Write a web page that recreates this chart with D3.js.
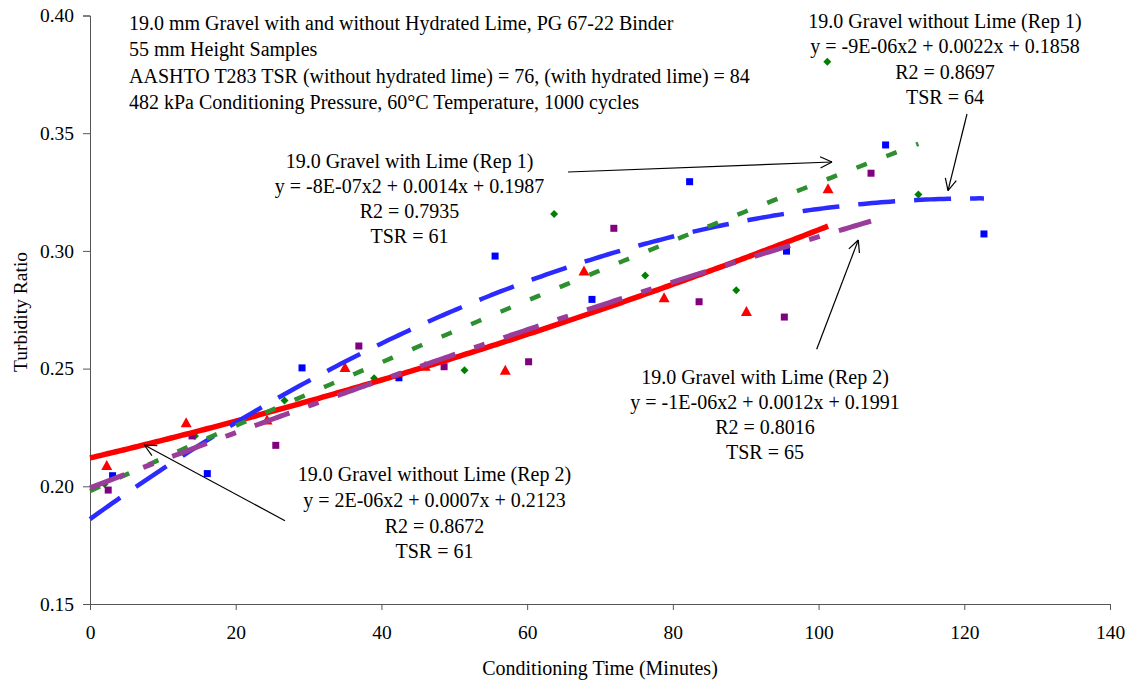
<!DOCTYPE html>
<html><head><meta charset="utf-8">
<script src="https://cdn.jsdelivr.net/npm/d3@7"></script>
<style>
body{margin:0;background:#fff}
svg{display:block}
text{font-family:"Liberation Serif","Times New Roman",serif;fill:#000}
</style>
</head><body>
<svg id="c" width="1129" height="684"></svg>
<script>
// ---------- data ----------
const xTicks = [0, 20, 40, 60, 80, 100, 120, 140];
const yTicks = [0.15, 0.20, 0.25, 0.30, 0.35, 0.40];

// 19.0 Gravel without Lime (Rep 1) - blue squares
const noLime1Time = [3.1, 16.1, 29.1, 42.4, 55.6, 68.9, 82.3, 95.6, 109.2, 122.7];
const noLime1TR   = [0.2045, 0.2054, 0.2503, 0.2461, 0.2978, 0.2794, 0.3294, 0.2999, 0.3450, 0.3072];
// 19.0 Gravel with Lime (Rep 1) - green diamonds
const lime1Time = [2.0, 14.4, 26.7, 39.0, 51.4, 63.7, 76.2, 88.7, 101.2, 113.7];
const lime1TR   = [0.2010, 0.2214, 0.2364, 0.2459, 0.2493, 0.3157, 0.2895, 0.2833, 0.3804, 0.3240];
// 19.0 Gravel without Lime (Rep 2) - red triangles
const noLime2Time = [2.3, 13.2, 24.3, 35.0, 46.0, 57.0, 67.8, 78.8, 90.1, 101.3];
const noLime2TR   = [0.2086, 0.2268, 0.2279, 0.2503, 0.2508, 0.2491, 0.2912, 0.2799, 0.2740, 0.3262];
// 19.0 Gravel with Lime (Rep 2) - purple squares
const lime2Time = [2.5, 14.0, 25.5, 36.9, 48.6, 60.2, 71.9, 83.6, 95.3, 107.2];
const lime2TR   = [0.1984, 0.2214, 0.2174, 0.2596, 0.2508, 0.2529, 0.3096, 0.2784, 0.2719, 0.3330];

const headerLines = [
  "19.0 mm Gravel with and without Hydrated Lime, PG 67-22 Binder",
  "55 mm Height Samples",
  "AASHTO T283 TSR (without hydrated lime) = 76, (with hydrated lime) = 84",
  "482 kPa Conditioning Pressure, 60\u00B0C Temperature, 1000 cycles"
];
const noteNoLime1 = ["19.0 Gravel without Lime (Rep 1)", "y = -9E-06x2 + 0.0022x + 0.1858", "R2 = 0.8697", "TSR = 64"];
const noteLime1   = ["19.0 Gravel with Lime (Rep 1)", "y = -8E-07x2 + 0.0014x + 0.1987", "R2 = 0.7935", "TSR = 61"];
const noteLime2   = ["19.0 Gravel with Lime (Rep 2)", "y = -1E-06x2 + 0.0012x + 0.1991", "R2 = 0.8016", "TSR = 65"];
const noteNoLime2 = ["19.0 Gravel without Lime (Rep 2)", "y = 2E-06x2 + 0.0007x + 0.2123", "R2 = 0.8672", "TSR = 61"];

// ---------- chart ----------
const svg = d3.select("#c");
const x = d3.scaleLinear().domain([0, 140]).range([90, 1110]);
const y = d3.scaleLinear().domain([0.15, 0.40]).range([604, 15.5]);

function quadFit(xs, ys) {
  let S = [0,0,0,0,0], T = [0,0,0];
  xs.forEach((xv, i) => {
    let p = 1;
    for (let k = 0; k < 5; k++) { S[k] += p; if (k < 3) T[k] += p * ys[i]; p *= xv; }
  });
  const A = [[S[0],S[1],S[2],T[0]],[S[1],S[2],S[3],T[1]],[S[2],S[3],S[4],T[2]]];
  for (let c = 0; c < 3; c++) {
    for (let r = c + 1; r < 3; r++) {
      const f = A[r][c] / A[c][c];
      for (let k = c; k < 4; k++) A[r][k] -= f * A[c][k];
    }
  }
  const s = [0,0,0];
  for (let r = 2; r >= 0; r--) {
    let v = A[r][3];
    for (let k = r + 1; k < 3; k++) v -= A[r][k] * s[k];
    s[r] = v / A[r][r];
  }
  return t => s[0] + s[1] * t + s[2] * t * t;
}

// axes
const gy = svg.append("g").attr("transform", "translate(90,0)")
  .call(d3.axisLeft(y).tickValues(yTicks).tickFormat(d3.format(".2f")).tickSize(7).tickPadding(9));
const gx = svg.append("g").attr("transform", "translate(0,604)")
  .call(d3.axisBottom(x).tickValues(xTicks).tickFormat(d3.format("d")).tickSize(6).tickPadding(15));
[gx, gy].forEach(g => {
  g.selectAll("path.domain, line").attr("stroke", "#555").attr("stroke-width", 1);
  g.selectAll("text").style("font-size", "19.5px").style("font-family", "Liberation Serif");
});

svg.append("text").attr("x", 600).attr("y", 675).attr("text-anchor", "middle")
  .style("font-size", "20px").text("Conditioning Time (Minutes)");
svg.append("text").attr("transform", "translate(27,312) rotate(-90)").attr("text-anchor", "middle")
  .style("font-size", "19.5px").text("Turbidity Ratio");

const series = [
  {t: noLime1Time, v: noLime1TR, color: "#0000ff", line: "#2b2bff", dash: "37,19", w: 4.5, shape: "square"},
  {t: lime1Time,   v: lime1TR,   color: "#008000", line: "#2e8f2e", dash: "11,21", w: 4.5, shape: "diamond"},
  {t: noLime2Time, v: noLime2TR, color: "#ff0000", line: "#ff0000", dash: null,    w: 5.5, shape: "triangle"},
  {t: lime2Time,   v: lime2TR,   color: "#800080", line: "#9a3c9a", dash: "37,20,11,20", w: 5, shape: "square"}
];

// markers
series.forEach(s => {
  const g = svg.append("g");
  s.t.forEach((tv, i) => {
    const cx = x(tv), cy = y(s.v[i]);
    if (s.shape === "square") {
      g.append("rect").attr("x", cx - 3.5).attr("y", cy - 3.5).attr("width", 7).attr("height", 7).attr("fill", s.color);
    } else if (s.shape === "diamond") {
      g.append("path").attr("d", `M${cx},${cy-4}L${cx+4},${cy}L${cx},${cy+4}L${cx-4},${cy}Z`).attr("fill", s.color);
    } else {
      g.append("path").attr("d", `M${cx},${cy-6}L${cx+5.5},${cy+4}L${cx-5.5},${cy+4}Z`).attr("fill", s.color);
    }
  });
});

// trendlines (quadratic least squares, 0 .. last time)
const order = [2, 0, 1, 3];
order.forEach(k => {
  const s = series[k];
  const f = quadFit(s.t, s.v);
  const tmax = d3.max(s.t);
  const pts = d3.range(0, 201).map(i => [tmax * i / 200, f(tmax * i / 200)]);
  const p = svg.append("path")
    .attr("d", d3.line().x(d => x(d[0])).y(d => y(d[1]))(pts))
    .attr("fill", "none").attr("stroke", s.line).attr("stroke-width", s.w);
  if (s.dash) p.attr("stroke-dasharray", s.dash);
});

// text blocks
function block(lines, cx, cy0, dy, anchor) {
  const t = svg.append("text").attr("text-anchor", anchor).style("font-size", "20px");
  lines.forEach((l, i) => t.append("tspan").attr("x", cx).attr("y", cy0 + i * dy + 7).text(l));
}
block(headerLines, 129, 22.5, 26.5, "start");
block(noteNoLime1, 945, 20.7, 25.5, "middle");
block(noteLime1, 409.5, 160.7, 25.2, "middle");
block(noteLime2, 765, 377, 25, "middle");
block(noteNoLime2, 434.5, 474.3, 25.7, "middle");

// arrows
function arrow(x1, y1, x2, y2) {
  const g = svg.append("g").attr("stroke", "#000").attr("stroke-width", 1.2).attr("fill", "none");
  g.append("line").attr("x1", x1).attr("y1", y1).attr("x2", x2).attr("y2", y2);
  const a = Math.atan2(y2 - y1, x2 - x1), L = 13, h = 0.45;
  [a + Math.PI - h, a + Math.PI + h].forEach(b => {
    g.append("line").attr("x1", x2).attr("y1", y2).attr("x2", x2 + L * Math.cos(b)).attr("y2", y2 + L * Math.sin(b));
  });
}
arrow(568, 172, 832, 162);
arrow(967, 114, 948, 190.7);
arrow(816.7, 349.3, 858.3, 240);
arrow(285, 520.7, 144.3, 445);
</script>
</body></html>
